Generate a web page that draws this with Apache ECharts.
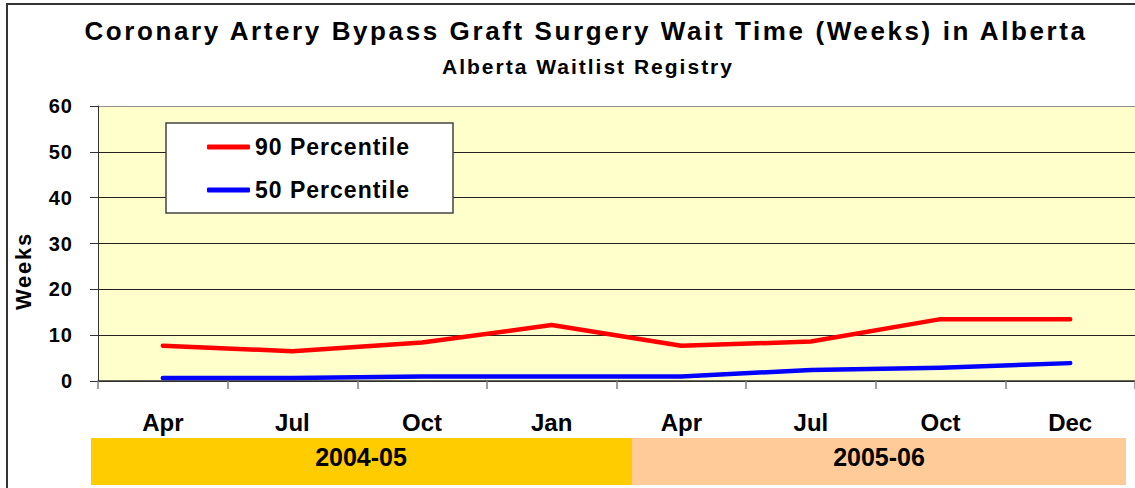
<!DOCTYPE html>
<html>
<head>
<meta charset="utf-8">
<script src="https://cdn.jsdelivr.net/npm/echarts@6/dist/echarts.min.js"></script>
<style>
  html, body { margin: 0; padding: 0; background: #fff; }
  #chart { width: 1135px; height: 488px; }
</style>
</head>
<body>
<div id="chart"></div>
<script>
// ---- data ----
const titleText = 'Coronary Artery Bypass Graft Surgery Wait Time (Weeks) in Alberta';
const subtitleText = 'Alberta Waitlist Registry';
const yAxisTitle = 'Weeks';
const months = ['Apr', 'Jul', 'Oct', 'Jan', 'Apr', 'Jul', 'Oct', 'Dec'];
const fiscalYears = ['2004-05', '2005-06'];
const seriesNames = ['90 Percentile', '50 Percentile'];
const p90 = [7.7, 6.5, 8.4, 12.2, 7.7, 8.6, 13.5, 13.5];
const p50 = [0.65, 0.65, 1.0, 1.0, 1.0, 2.4, 2.9, 3.9];
const yMin = 0, yMax = 60, yStep = 10;

// ---- style ----
const FF = "'Liberation Sans Narrow', 'Arial Narrow', 'Liberation Sans', Arial, sans-serif";
const spacingBySize = { 26: 2.6, 21: 2.0, 20: 1.0, 22: 1.75, 23: 1.0, 24: 0, 25: 0 };

const chart = echarts.init(document.getElementById('chart'), null, { renderer: 'svg' });

const option = {
  animation: false,
  backgroundColor: '#ffffff',
  grid: {
    left: 98, top: 106, width: 1044, height: 275,
    show: true, backgroundColor: '#FFFFCC', borderWidth: 0
  },
  legend: {
    orient: 'vertical',
    left: 202, top: 130.5,
    itemWidth: 43, itemHeight: 5, itemGap: 20,
    icon: 'roundRect',
    z: 6,
    textStyle: { fontFamily: FF, fontWeight: 'bold', fontSize: 23, color: '#000' },
    data: seriesNames
  },
  xAxis: {
    type: 'category',
    data: months,
    boundaryGap: true,
    axisLine: { lineStyle: { color: '#333', width: 1.5 } },
    axisTick: { show: true, length: 8, interval: 0, lineStyle: { color: '#808080', width: 1.5 } },
    axisLabel: { interval: 0, margin: 29, fontFamily: FF, fontWeight: 'bold', fontSize: 24, color: '#000' },
    splitLine: { show: false }
  },
  yAxis: {
    type: 'value',
    min: yMin, max: yMax, interval: yStep,
    axisLine: { show: true, lineStyle: { color: '#333', width: 1 } },
    axisTick: { show: true, length: 8, lineStyle: { color: '#333' } },
    axisLabel: { margin: 25, fontFamily: FF, fontWeight: 'bold', fontSize: 20, color: '#000' },
    splitLine: { show: true, lineStyle: { color: ['#222', '#222', '#222', '#222', '#222', '#222', '#909090'], width: 1 } }
  },
  series: [
    {
      name: seriesNames[0], type: 'line', data: p90, symbol: 'none',
      color: '#FF0000',
      lineStyle: { color: '#FF0000', width: 4.5, cap: 'round', join: 'round' }
    },
    {
      name: seriesNames[1], type: 'line', data: p50, symbol: 'none',
      color: '#0000FF',
      lineStyle: { color: '#0000FF', width: 4.5, cap: 'round', join: 'round' }
    }
  ],
  graphic: [
    // outer chart border
    { type: 'rect', z: 0, silent: true,
      shape: { x: 7, y: 4, width: 1300, height: 700 },
      style: { fill: 'none', stroke: '#333', lineWidth: 2 } },
    // titles
    { type: 'text', z: 10, x: 586, y: 31,
      style: { text: titleText, font: "bold 26px " + FF, fill: '#000', align: 'center', verticalAlign: 'middle' } },
    { type: 'text', z: 10, x: 588, y: 66,
      style: { text: subtitleText, font: "bold 21px " + FF, fill: '#000', align: 'center', verticalAlign: 'middle' } },
    // y axis title
    { type: 'text', z: 10, x: 23, y: 271, rotation: Math.PI / 2,
      style: { text: yAxisTitle, font: "bold 22px " + FF, fill: '#000', align: 'center', verticalAlign: 'middle' } },
    // legend box
    { type: 'rect', z: 4, silent: true,
      shape: { x: 166, y: 123, width: 287, height: 90 },
      style: { fill: '#ffffff', stroke: '#444', lineWidth: 1.5 } },
    // fiscal year bands
    { type: 'rect', z: 3, silent: true,
      shape: { x: 91, y: 438, width: 541, height: 47 },
      style: { fill: '#FFCC00' } },
    { type: 'rect', z: 3, silent: true,
      shape: { x: 632, y: 438, width: 494, height: 47 },
      style: { fill: '#FFCC99' } },
    { type: 'text', z: 10, x: 361, y: 457,
      style: { text: fiscalYears[0], font: "bold 25px " + FF, fill: '#000', align: 'center', verticalAlign: 'middle' } },
    { type: 'text', z: 10, x: 879, y: 457,
      style: { text: fiscalYears[1], font: "bold 25px " + FF, fill: '#000', align: 'center', verticalAlign: 'middle' } }
  ]
};

chart.setOption(option);

function applySpacing() {
  document.querySelectorAll('#chart text').forEach(function (t) {
    const fs = Math.round(parseFloat(getComputedStyle(t).fontSize));
    const sp = spacingBySize[fs];
    if (sp != null) t.setAttribute('letter-spacing', sp + 'px');
  });
}
chart.on('finished', applySpacing);
applySpacing();
requestAnimationFrame(applySpacing);
setTimeout(applySpacing, 50);
setTimeout(applySpacing, 300);
</script>
</body>
</html>
